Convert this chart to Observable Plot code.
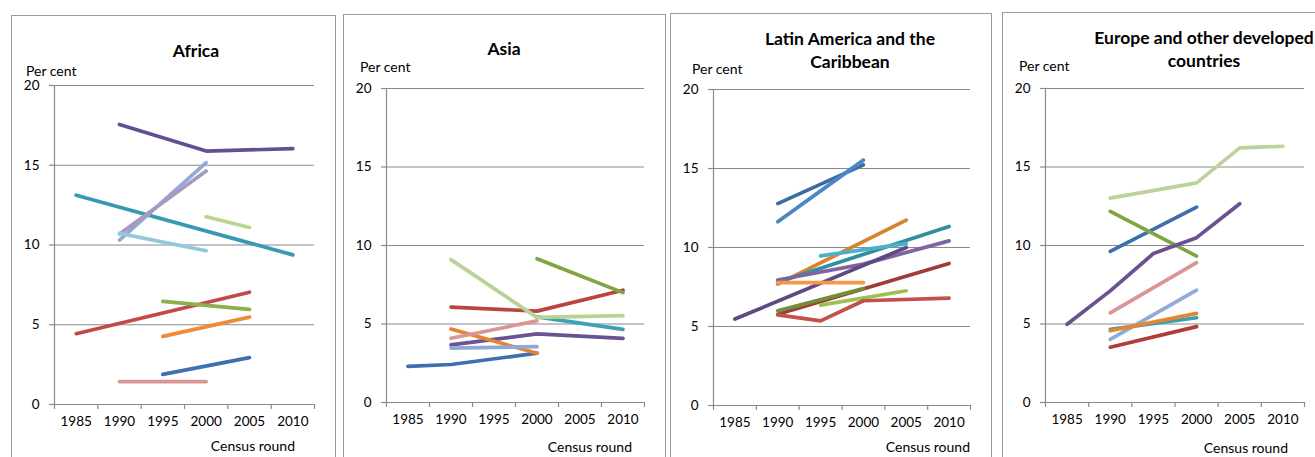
<!DOCTYPE html>
<html><head><meta charset="utf-8">
<script src="https://cdn.jsdelivr.net/npm/d3@7"></script>
<script src="https://cdn.jsdelivr.net/npm/@observablehq/plot@0.6"></script>
<style>
html,body{margin:0;padding:0;background:#fff;overflow:hidden;}
#root{position:relative;width:1315px;height:457px;overflow:hidden;font-family:Lato,"Open Sans",sans-serif;color:#000;}
.panel{position:absolute;border:1px solid #9a9a9a;box-sizing:border-box;height:520px;}
.lbl{position:absolute;white-space:nowrap;line-height:1;}
.title{font-weight:bold;font-size:17.5px;text-align:center;transform:translate(-50%,-50%);}
.unit{font-size:14px;transform:translateY(-50%);}
.xl{font-size:14px;transform:translate(-100%,-50%);}
svg{position:absolute;top:0;}
</style></head><body><div id="root"></div><script>
// ---- data ----
const years = [1985, 1990, 1995, 2000, 2005, 2010];
const yTicks = [0, 5, 10, 15, 20];
const regionNames = ["Africa", "Asia", "Latin America and the\nCaribbean", "Europe and other developed\ncountries"];
const unitLabel = "Per cent";
const axisLabel = "Census round";

const africaValues = [
  [null, null, 1.89, null, 2.94, null],
  [4.44, null, null, null, 7.04, null],
  [null, null, 6.46, null, 5.96, null],
  [null, 17.56, null, 15.89, null, 16.04],
  [13.12, null, null, null, null, 9.38],
  [null, null, 4.27, null, 5.48, null],
  [null, 10.31, null, 15.16, null, null],
  [null, 1.44, null, 1.44, null, null],
  [null, null, null, 11.77, 11.1, null],
  [null, 10.69, null, 14.64, null, null],
  [null, 10.73, null, 9.64, null, null]
];
const asiaValues = [
  [2.3, 2.42, null, 3.14, null, null],
  [null, 6.08, null, 5.82, null, 7.15],
  [null, null, null, 9.16, null, 7.0],
  [null, 3.67, null, 4.37, null, 4.09],
  [null, null, null, 5.45, null, 4.66],
  [null, 4.68, null, 3.14, null, null],
  [null, 3.46, null, 3.56, null, null],
  [null, 4.09, null, 5.2, null, null],
  [null, 9.1, null, 5.42, null, 5.53]
];
const latinValues = [
  [null, 12.78, null, 15.23, null, null],
  [null, 11.63, null, 15.53, null, null],
  [null, 7.68, null, null, 11.73, null],
  [null, 7.8, null, null, null, 11.33],
  [null, null, 9.47, null, 10.25, null],
  [null, 7.94, null, 8.95, null, 10.42],
  [5.47, null, null, null, 10.0, null],
  [null, 7.78, null, 7.78, null, null],
  [null, 5.78, null, null, null, 8.99],
  [null, 5.99, null, 7.4, null, null],
  [null, null, 6.35, null, 7.26, null],
  [null, 5.74, 5.36, 6.63, null, 6.8]
];
const europeValues = [
  [null, 13.02, null, 13.99, 16.22, 16.32],
  [null, 9.63, null, 12.44, null, null],
  [null, 12.17, null, 9.33, null, null],
  [4.98, 7.11, 9.49, 10.5, 12.66, null],
  [null, 5.71, null, 8.91, null, null],
  [null, 4.02, null, 7.16, null, null],
  [null, 4.66, null, 5.4, null, null],
  [null, 4.57, null, 5.68, null, null],
  [null, 3.52, null, 4.83, null, null]
];

// ---- styles ----
const africaColors = ["#4170B0","#BE4B48","#8DB04C","#65508F","#379AB3","#EE8A3A","#8FAAD8","#D99694","#BCD38F","#A898C2","#93C8DC"];
const asiaColors = ["#3F6FAE","#B94542","#7FA540","#6A5394","#3CA0B9","#E9822E","#8EA9D8","#D99694","#B9D296"];
const latinColors = ["#3D6C9E","#4A86C8","#D9822E","#31909F","#4CB0CB","#8064A2","#5E4A80","#F79646","#A23B38","#6F9038","#9BC153","#C4504D"];
const europeColors = ["#BBD39A","#3D6FAE","#7FA540","#6C5192","#D99694","#90ABD8","#3BA0B5","#E6852F","#B03D3A"];

const layout = [
  {left: 11, top: 15, width: 325, axisL: 54, axisR: 314, yTop: 85, y0: 404, titleX: 196, titleY: 50, perX: 26, perY: 71, censusR: 295, censusY: 446},
  {left: 343, top: 14, width: 323, axisL: 386, axisR: 644, yTop: 88, y0: 402, titleX: 504, titleY: 48, perX: 360, perY: 67, censusR: 632, censusY: 447},
  {left: 670, top: 13, width: 322, axisL: 713, axisR: 970, yTop: 89, y0: 405, titleX: 850, titleY: 50, perX: 692, perY: 69, censusR: 970, censusY: 447},
  {left: 1002, top: 12, width: 330, axisL: 1045, axisR: 1304, yTop: 88, y0: 402, titleX: 1204, titleY: 49, perX: 1019, perY: 66, censusR: 1288, censusY: 448}
];

const allValues = [africaValues, asiaValues, latinValues, europeValues];
const allColors = [africaColors, asiaColors, latinColors, europeColors];

const root = document.getElementById("root");
const step = years[1] - years[0];
const bounds = [...years.map(y => y - step / 2), years[years.length - 1] + step / 2];
const gray = "#8a8a8a";

layout.forEach((L, i) => {
  const panel = document.createElement("div");
  panel.className = "panel";
  panel.style.left = L.left + "px";
  panel.style.top = L.top + "px";
  panel.style.width = L.width + "px";
  root.appendChild(panel);

  const rows = [];
  allValues[i].forEach((vals, s) => {
    vals.forEach((v, k) => {
      if (v != null) rows.push({series: s, year: years[k], value: v, color: allColors[i][s]});
    });
  });

  const chart = Plot.plot({
    width: L.width,
    height: 457,
    marginLeft: L.axisL - L.left,
    marginRight: L.left + L.width - L.axisR,
    marginTop: L.yTop,
    marginBottom: 457 - L.y0,
    x: {type: "linear", domain: [bounds[0], bounds[bounds.length - 1]]},
    y: {domain: [yTicks[0], yTicks[yTicks.length - 1]]},
    color: {type: "identity"},
    style: {fontFamily: "Lato, sans-serif", fontSize: "13.5px", color: "#000", background: "transparent", overflow: "visible"},
    marks: [
      Plot.gridY(yTicks, {stroke: gray, strokeOpacity: 1, strokeWidth: 1.2}),
      Plot.axisY(yTicks, {tickSize: 5, tickPadding: 10, stroke: gray, strokeWidth: 1.2, fill: "#000", label: null}),
      Plot.axisX(bounds, {tickSize: 5, stroke: gray, strokeWidth: 1.2, tickFormat: () => "", label: null}),
      Plot.axisX(years, {tickSize: 0, tickPadding: 12, fill: "#000", tickFormat: d => String(d), label: null}),
      Plot.frame({anchor: "left", stroke: gray, strokeWidth: 1.2}),
      Plot.line(rows, {x: "year", y: "value", z: "series", stroke: "color", strokeWidth: 3.7, strokeLinecap: "round", strokeLinejoin: "round"})
    ]
  });
  chart.style.left = L.left + "px";
  root.appendChild(chart);

  const title = document.createElement("div");
  title.className = "lbl title";
  title.style.left = L.titleX + "px";
  title.style.top = L.titleY + "px";
  title.style.lineHeight = "23px";
  title.innerHTML = regionNames[i].split("\n").join("<br>");
  root.appendChild(title);

  const per = document.createElement("div");
  per.className = "lbl unit";
  per.style.left = L.perX + "px";
  per.style.top = L.perY + "px";
  per.textContent = unitLabel;
  root.appendChild(per);

  const cen = document.createElement("div");
  cen.className = "lbl xl";
  cen.style.left = L.censusR + "px";
  cen.style.top = L.censusY + "px";
  cen.textContent = axisLabel;
  root.appendChild(cen);
});
</script></body></html>
